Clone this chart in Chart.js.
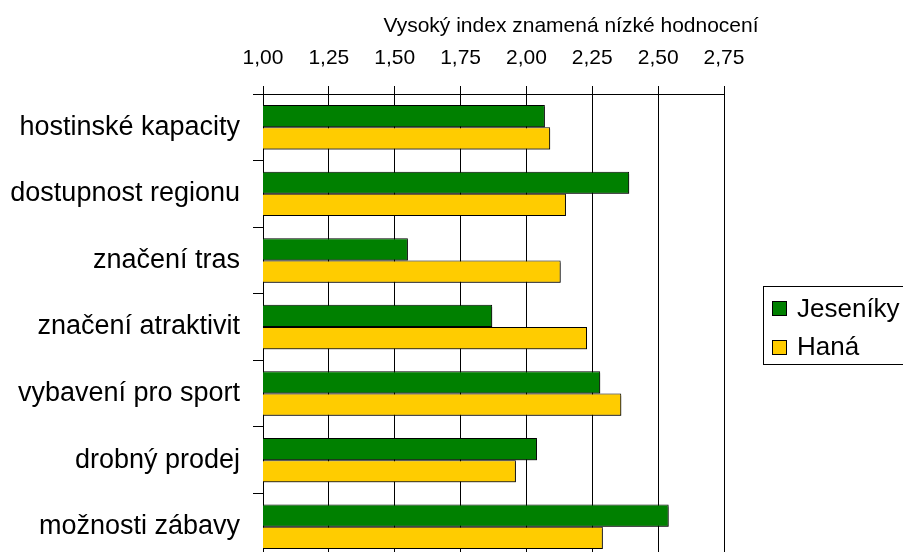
<!DOCTYPE html>
<html><head><meta charset="utf-8">
<script src="https://cdn.jsdelivr.net/npm/chart.js@4"></script>
<style>
html,body{margin:0;padding:0;background:#fff;overflow:hidden;}
#wrap{position:relative;width:903px;height:560px;}
</style></head>
<body><div id="wrap"><canvas id="c" width="903" height="560"></canvas></div>
<script>
const categories = ['hostinské kapacity','dostupnost regionu','značení tras','značení atraktivit','vybavení pro sport','drobný prodej','možnosti zábavy'];
const jesenikyValues = [2.07, 2.39, 1.55, 1.87, 2.28, 2.04, 2.54];
const hanaValues = [2.09, 2.15, 2.13, 2.23, 2.36, 1.96, 2.29];
const seriesNames = ['Jeseníky','Haná'];
const seriesColors = ['#008000','#FFCC00'];
const tickLabels = ['1,00','1,25','1,50','1,75','2,00','2,25','2,50','2,75'];
const axisTitle = 'Vysoký index znamená nízké hodnocení';
const axisMin = 1, axisMax = 2.75, axisStep = 0.25;

const FONT = "'Liberation Sans', Arial, sans-serif";

const barShadow = {
  id: 'barShadow',
  beforeDatasetsDraw(c) {
    const ctx = c.ctx; ctx.save();
    ctx.shadowColor = 'rgba(0,0,0,0.45)';
    ctx.shadowOffsetX = 2; ctx.shadowOffsetY = 2; ctx.shadowBlur = 0;
  },
  afterDatasetsDraw(c) { c.ctx.restore(); }
};

const axisTitlePlugin = {
  id: 'axisTitlePlugin',
  afterDraw(c) {
    const ctx = c.ctx; ctx.save();
    ctx.font = '21px ' + FONT; ctx.fillStyle = '#000';
    ctx.textAlign = 'center'; ctx.textBaseline = 'alphabetic';
    ctx.fillText(axisTitle, 571, 32);
    ctx.restore();
  }
};

const boxLegend = {
  id: 'boxLegend',
  afterDraw(c) {
    const ctx = c.ctx; ctx.save();
    ctx.strokeStyle = '#000'; ctx.lineWidth = 1;
    ctx.strokeRect(763.5, 286.5, 200, 78);
    ctx.font = '26px ' + FONT; ctx.textBaseline = 'middle'; ctx.textAlign = 'left';
    c.data.datasets.forEach((ds, i) => {
      const cy = 308.5 + i * 38.5;
      ctx.fillStyle = ds.backgroundColor;
      ctx.fillRect(772, Math.round(cy - 7.5), 15, 15);
      ctx.strokeStyle = '#000';
      ctx.strokeRect(772.5, Math.round(cy - 7.5) + 0.5, 14, 14);
      ctx.fillStyle = '#000';
      ctx.fillText(ds.label, 797, cy + 1);
    });
    ctx.restore();
  }
};

new Chart(document.getElementById('c'), {
  type: 'bar',
  data: {
    labels: categories,
    datasets: [
      { label: seriesNames[0], data: jesenikyValues, backgroundColor: seriesColors[0], borderColor: '#000', borderWidth: 1, borderSkipped: false, categoryPercentage: 0.667, barPercentage: 1 },
      { label: seriesNames[1], data: hanaValues, backgroundColor: seriesColors[1], borderColor: '#000', borderWidth: 1, borderSkipped: false, categoryPercentage: 0.667, barPercentage: 1 }
    ]
  },
  options: {
    indexAxis: 'y',
    responsive: false,
    animation: false,
    devicePixelRatio: 1,
    layout: { padding: { left: 0, right: 179, top: 0, bottom: 0 } },
    plugins: { legend: { display: false }, tooltip: { enabled: false } },
    scales: {
      x: {
        position: 'top', min: axisMin, max: axisMax,
        ticks: { stepSize: axisStep, color: '#000', font: { family: FONT, size: 21 }, padding: 15, maxRotation: 0,
                 callback: (v, i) => tickLabels[i] },
        grid: { color: '#000', lineWidth: 1, tickLength: 8, drawTicks: true },
        border: { color: '#000', width: 1 },
        afterFit(s) { s.height = 94; }
      },
      y: {
        ticks: { color: '#000', font: { family: FONT, size: 27 }, padding: 13 },
        grid: { drawOnChartArea: false, color: '#000', tickLength: 10, offset: true },
        border: { color: '#000', width: 1 },
        afterFit(s) { s.width = 263; s.paddingTop = 0; s.paddingBottom = 0; }
      }
    }
  },
  plugins: [barShadow, axisTitlePlugin, boxLegend]
});
</script>
</body></html>
